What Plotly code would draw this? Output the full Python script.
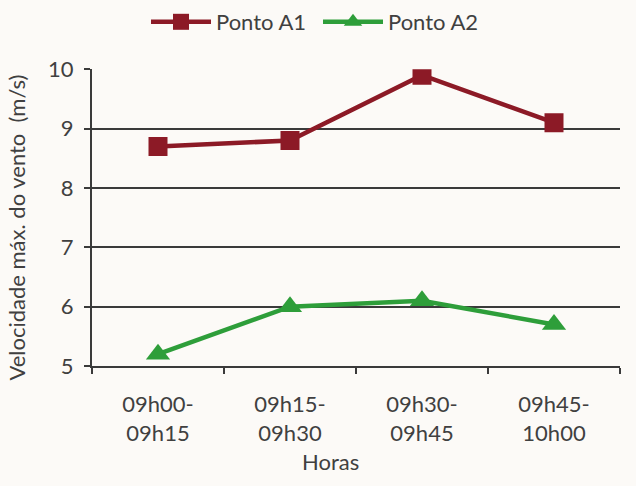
import plotly.graph_objects as go

# Intervalos de tempo e velocidades máximas do vento (m/s)
horas = ["09h00-<br>09h15", "09h15-<br>09h30", "09h30-<br>09h45", "09h45-<br>10h00"]
ponto_a1 = [8.7, 8.8, 9.9, 9.1]
ponto_a2 = [5.2, 6.0, 6.1, 5.7]

cor_a1 = "#8C1A26"
cor_a2 = "#2E9E3A"
cor_texto = "#404040"
cor_eixo = "#3A3A3A"
fonte = "Lato"
tam = 22

fig = go.Figure()
fig.add_trace(go.Scatter(
    x=horas, y=ponto_a1, name="Ponto A1", mode="lines+markers",
    line=dict(color=cor_a1, width=4.5),
    marker=dict(symbol="square", size=19, color=cor_a1),
))
fig.add_trace(go.Scatter(
    x=horas, y=ponto_a2, name="Ponto A2", mode="lines+markers",
    line=dict(color=cor_a2, width=4.5),
    marker=dict(symbol="triangle-up", size=21, color=cor_a2),
))

fig.update_layout(
    width=636, height=486,
    margin=dict(l=92, r=16, t=68, b=120),
    paper_bgcolor="#FCFAF7",
    plot_bgcolor="#FCFAF7",
    font=dict(family=fonte, size=tam, color=cor_texto),
    showlegend=True,
    legend=dict(
        orientation="h", x=146 / 636, xanchor="left", xref="container",
        y=1 - 22 / 486, yanchor="middle", yref="container",
        itemwidth=60, entrywidth=97, entrywidthmode="pixels",
        font=dict(size=tam, color=cor_texto),
        bgcolor="rgba(0,0,0,0)", traceorder="normal",
    ),
    xaxis=dict(
        type="category", range=[-0.5, 3.5],
        showline=True, linecolor=cor_eixo, linewidth=2,
        ticks="outside", tickson="boundaries", ticklen=6, tickwidth=2, tickcolor=cor_eixo,
        ticklabelstandoff=18,
        showgrid=False, zeroline=False,
    ),
    yaxis=dict(
        range=[5, 10], dtick=1, tick0=5,
        showline=True, linecolor=cor_eixo, linewidth=2,
        ticks="outside", ticklen=6, tickwidth=2, tickcolor=cor_eixo,
        ticklabelstandoff=6,
        showgrid=True, gridcolor=cor_eixo, gridwidth=2, zeroline=False,
    ),
    annotations=[
        dict(text="Horas", xref="paper", yref="paper",
             x=(330 - 92) / 528, y=-(462 - 366) / 298,
             xanchor="center", yanchor="middle", showarrow=False,
             font=dict(size=tam, color=cor_texto)),
        dict(text="Velocidade máx. do vento  (m/s)", xref="paper", yref="paper",
             x=(17 - 92) / 528, y=(366 - 227) / 298, textangle=-90,
             xanchor="center", yanchor="middle", showarrow=False,
             font=dict(size=tam, color=cor_texto)),
    ],
)

fig.write_html("out.html")
